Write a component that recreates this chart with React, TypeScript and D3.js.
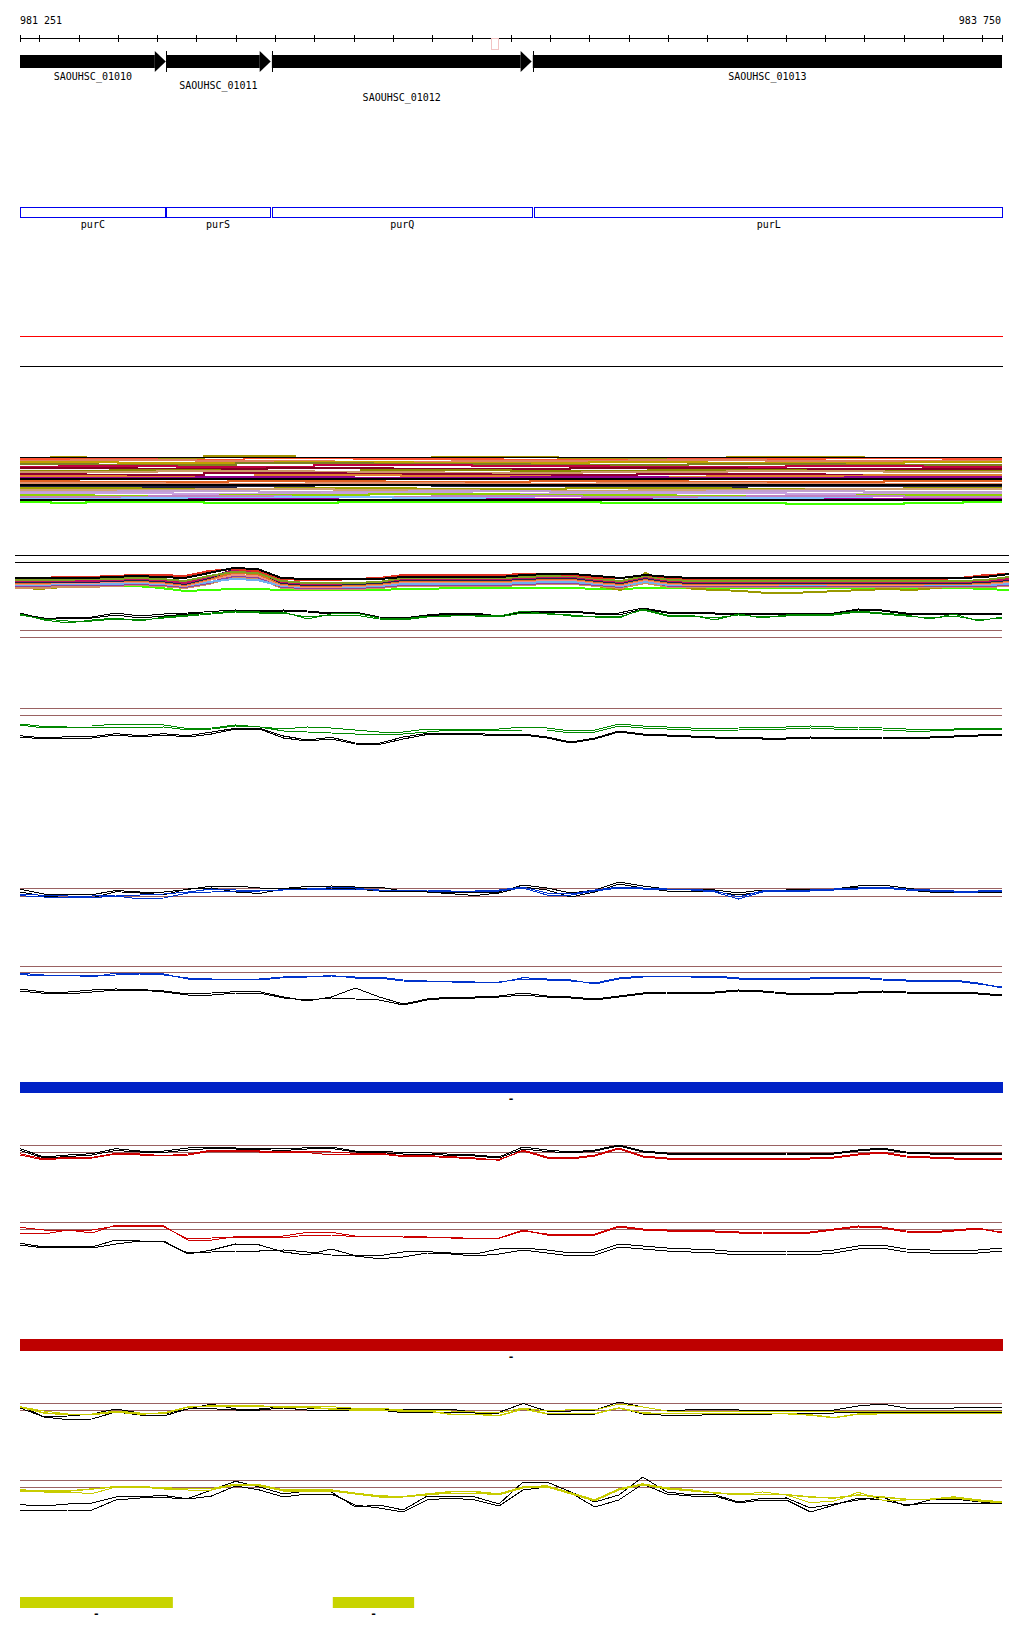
import React from 'react';
import * as d3 from 'd3';

// ---------- region & ruler ----------
const REGION_START = 981251;
const REGION_END = 983750;
const rulerLabels = ['981 251', '983 750'];
const rulerTicks = d3.range(981300, 983701, 100);

// ---------- genes ----------
const geneNames = ['SAOUHSC_01010', 'SAOUHSC_01011', 'SAOUHSC_01012', 'SAOUHSC_01013'];
const geneStarts = [980500, 981623, 981892, 982556];
const geneEnds = [981622, 981889, 982553, 984400];
const geneLabelRows = [0, 1, 2, 0];
const symbolNames = ['purC', 'purS', 'purQ', 'purL'];
const symbolStarts = [980500, 981622, 981892, 982560];
const symbolEnds = [981622, 981888, 982556, 984400];

// ---------- strand bars ----------
const blueBars = [[981251, 983750]];
const redBars = [[981251, 983750]];
const yellowBars = [[981251, 981640], [982047, 982254]];

// ---------- track A (stacked step profiles: [start bp, level] runs) ----------
const aColors = ['#a09000', '#ff5030', '#e08060', '#c0a000', '#808020', '#c00040', '#800020', '#8a8a00', '#cc9966', '#900030', '#e08030', '#900090', '#e06020', '#e09070', '#202040', '#a0a000', '#d0a070', '#c0a0d0', '#c8a0e0', '#90d000', '#c080c0', '#80c0ff', '#a000a0', '#40ff00'];
const aRuns = [
  [[981251, 48], [981330, 49], [981420, 48], [981720, 50], [981950, 48], [982300, 49], [982620, 48], [983050, 49], [983400, 48]],
  [[981251, 47], [981600, 46], [981820, 48], [982100, 47], [982480, 46], [982900, 47], [983300, 48], [983600, 47]],
  [[981251, 45], [981380, 46], [981700, 45], [982050, 44], [982350, 45], [982800, 46], [983150, 45]],
  [[981251, 44], [981500, 43], [981900, 44], [982250, 43], [982700, 44], [983000, 43], [983500, 44]],
  [[981251, 42], [981450, 41], [981800, 43], [982150, 42], [982550, 41], [982950, 42], [983350, 41]],
  [[981251, 39], [981350, 40], [981650, 39], [982000, 41], [982400, 40], [982750, 39], [983200, 40], [983550, 39]],
  [[981251, 38], [981550, 37], [981880, 38], [982200, 37], [982650, 38], [983100, 37]],
  [[981251, 35], [981480, 36], [981760, 34], [982120, 36], [982500, 35], [982850, 36], [983250, 35]],
  [[981251, 34], [981600, 35], [982000, 34], [982330, 33], [982680, 34], [983050, 35], [983450, 34]],
  [[981251, 32], [981420, 31], [981720, 33], [982080, 32], [982450, 31], [982820, 32], [983300, 31]],
  [[981251, 30], [981520, 29], [981850, 31], [982220, 30], [982600, 29], [983000, 30], [983400, 31]],
  [[981251, 28], [981700, 29], [982100, 28], [982500, 29], [982900, 28], [983350, 29]],
  [[981251, 25], [981400, 24], [981780, 25], [982180, 24], [982550, 25], [982950, 24], [983450, 25]],
  [[981251, 23], [981620, 22], [981980, 23], [982380, 22], [982720, 23], [983150, 22]],
  [[981251, 20], [981460, 19], [981800, 20], [982000, 21], [982300, 20], [982700, 19], [983100, 20]],
  [[981251, 18], [981560, 17], [981900, 18], [982260, 17], [982640, 18], [983060, 17], [983500, 18]],
  [[981251, 16], [981700, 17], [982050, 16], [982420, 15], [982800, 16], [983250, 17]],
  [[981251, 14], [981500, 15], [981860, 14], [982240, 15], [982600, 14], [983000, 15], [983400, 14]],
  [[981251, 13], [981640, 12], [982020, 13], [982400, 12], [982780, 13], [983200, 12]],
  [[981251, 11], [981440, 10], [981760, 11], [982140, 12], [982520, 11], [982920, 10], [983380, 11]],
  [[981251, 9], [981580, 10], [981940, 9], [982300, 10], [982680, 9], [983100, 10], [983500, 9]],
  [[981251, 7], [981510, 8], [981900, 9], [982200, 8], [982560, 7], [982980, 8], [983420, 7]],
  [[981251, 6], [981680, 7], [982060, 6], [982440, 7], [982860, 6], [983300, 7]],
  [[981251, 4], [981330, 3], [981420, 4], [981720, 3], [982060, 4], [982730, 3], [983200, 2], [983500, 3], [983650, 4]],
];
const aBlackLevels = [48, 27, 21, 6];

// ---------- track B (multi-condition curves, 42 points) ----------
const bColors = ['#40ff00', '#999900', '#d09060', '#9040a0', '#70b0f0', '#f09080', '#e07020', '#202050', '#c01060', '#80a020', '#e03020', '#000000'];
const bValues = [
  [10, 10, 10, 10, 10, 10, 8, 5, 6, 7, 7, 6, 6, 6, 6, 6, 7, 7, 8, 8, 8, 8, 8, 8, 7, 7, 8, 8, 8, 8, 8, 8, 8, 8, 8, 8, 8, 8, 8, 8, 7, 6],
  [9, 7, 9, 12, 15, 17, 17, 15, 17, 20, 18, 12, 10, 10, 10, 11, 15, 15, 15, 14, 14, 15, 15, 14, 10, 6, 23, 12, 7, 6, 5, 3, 3, 4, 5, 6, 7, 6, 8, 10, 13, 15],
  [8, 8, 9, 9, 10, 11, 10, 8, 12, 19, 18, 8, 7, 7, 7, 8, 10, 10, 10, 10, 10, 11, 12, 12, 10, 8, 13, 9, 9, 9, 9, 9, 9, 9, 9, 9, 9, 9, 9, 9, 9, 10],
  [10, 10, 11, 11, 11, 12, 11, 9, 13, 20, 19, 9, 8, 8, 8, 9, 11, 11, 11, 11, 11, 12, 13, 13, 11, 9, 15, 10, 10, 10, 10, 10, 10, 10, 10, 10, 10, 10, 10, 10, 10, 11],
  [11, 11, 12, 12, 12, 13, 12, 10, 14, 17, 16, 10, 9, 9, 9, 10, 12, 12, 12, 12, 12, 13, 14, 14, 12, 10, 14, 11, 11, 11, 12, 12, 11, 11, 11, 11, 11, 11, 11, 11, 11, 12],
  [12, 12, 13, 13, 14, 14, 13, 10, 16, 21, 20, 11, 9, 9, 10, 11, 14, 14, 14, 14, 14, 15, 16, 16, 13, 11, 16, 12, 11, 11, 11, 11, 12, 12, 11, 11, 11, 11, 12, 12, 12, 14],
  [13, 13, 14, 14, 15, 15, 14, 11, 17, 23, 22, 12, 10, 10, 11, 12, 15, 15, 15, 15, 15, 16, 17, 17, 14, 12, 17, 13, 12, 12, 12, 12, 12, 12, 12, 12, 12, 12, 12, 12, 13, 15],
  [14, 14, 14, 14, 15, 16, 15, 12, 18, 26, 25, 13, 11, 11, 12, 13, 16, 16, 16, 16, 16, 17, 18, 18, 15, 13, 18, 14, 13, 13, 13, 13, 13, 13, 13, 13, 13, 13, 13, 13, 14, 16],
  [15, 15, 15, 15, 16, 17, 16, 13, 19, 25, 24, 14, 12, 12, 13, 14, 17, 17, 17, 17, 17, 18, 19, 19, 16, 14, 19, 15, 14, 14, 14, 14, 14, 14, 14, 14, 14, 14, 14, 14, 15, 17],
  [16, 16, 16, 17, 17, 18, 17, 15, 20, 24, 23, 15, 13, 13, 13, 14, 18, 18, 18, 18, 18, 19, 20, 20, 17, 15, 20, 16, 15, 15, 15, 15, 15, 15, 15, 15, 15, 15, 15, 15, 16, 19],
  [18, 18, 19, 19, 20, 21, 21, 20, 25, 27, 25, 17, 16, 16, 17, 18, 21, 21, 21, 21, 21, 22, 22, 21, 18, 18, 21, 18, 17, 17, 17, 17, 17, 17, 17, 17, 17, 17, 17, 18, 21, 22],
  [18, 18, 18, 18, 19, 20, 19, 18, 23, 28, 27, 18, 17, 17, 17, 17, 19, 19, 19, 19, 19, 21, 22, 22, 20, 18, 21, 19, 18, 18, 18, 18, 18, 18, 18, 18, 18, 18, 18, 18, 19, 22],
];

// ---------- line tracks (42 points each) ----------
const cBlackA = [27, 21, 23, 23, 27, 24, 26, 27, 28.5, 30, 29, 30, 29, 27, 28, 23, 22, 25, 27, 27, 24, 29, 29, 29, 27, 27, 32, 28, 28, 27, 27, 27, 27, 27, 27, 31, 30, 27, 27, 27, 27, 27];
const cBlackB = [26, 22, 21, 22, 25, 22, 24, 26, 27, 29, 28, 29, 28, 26, 27, 22, 21, 24, 26, 26, 23, 28, 28, 28, 26, 25, 31, 27, 27, 26, 26, 26, 26, 26, 26, 30, 29, 26, 26, 26, 26, 25];
const cGreenA = [26, 20, 17, 20, 22, 19, 23, 25, 27, 29, 28, 28, 21, 26, 27, 22, 21, 24, 24, 25, 24, 29, 26, 25, 23, 22, 31, 25, 25, 20, 26, 22, 25, 26, 26, 29, 27, 25, 21, 26, 19, 23];
const cGreenB = [25, 21, 19, 19, 21, 20, 22, 24, 26, 28, 27, 27, 23, 25, 25, 21, 20, 23, 25, 24, 23, 27, 27, 24, 24, 23, 30, 24, 24, 22, 25, 23, 24, 25, 25, 28, 26, 24, 22, 24, 20, 22];

const dGreenA = [26, 23.5, 24, 24, 26, 26, 25, 21.5, 22, 25, 23, 21, 23, 22, 20, 18, 18, 21, 21, 20, 21, 23, 22, 19, 20, 26, 24, 23, 22, 21, 22, 23, 23, 24, 23, 23, 22, 21, 21, 21, 22, 22];
const dGreenB = [25, 22, 23, 23, 23, 22.3, 23, 20, 21, 24, 23, 19, 18, 17, 16, 16, 16, 18, 20, 19, 19.5, 20, 20, 17, 18, 24, 22, 21, 20, 19, 20, 21, 21, 22, 21, 21, 20, 19, 19, 20, 21, 21];
const dBlackA = [14.3, 12, 13.3, 13.3, 16.3, 14.3, 16.3, 14.3, 18, 21.7, 21.7, 14, 10, 12.7, 7, 6.7, 13, 16.7, 16.7, 16.7, 15, 16, 13, 8, 12, 19, 16, 15, 14, 13, 13, 12, 12, 13, 12, 13, 13, 12, 13, 14, 15, 16];
const dBlackB = [13, 11, 12, 12, 15, 13, 15, 13, 16, 21, 21, 12, 9, 11, 6, 5.5, 11, 15.5, 15.5, 15.5, 14, 15, 12, 7, 11, 18, 15, 14, 13, 12, 12, 11, 11, 12, 11, 12, 12, 11, 12, 13, 14, 15];

const eBlackA = [20.7, 16, 15.3, 15.3, 19.5, 18, 18, 20.5, 24, 24, 22, 21.5, 23.5, 24, 23, 23, 19, 19, 17.3, 17.3, 18, 25, 22, 17, 20, 28, 24, 21, 21, 20, 17, 20, 20, 21, 21, 24, 25, 22, 19, 19, 19, 19];
const eBlackB = [18, 14, 12.3, 12.3, 18.3, 17, 15.3, 21, 22, 18, 16.5, 21, 22, 22, 21, 19, 19, 18, 16.3, 14.5, 17, 23, 20, 13, 18, 26, 22, 19, 19, 18, 15, 18, 19, 19, 20, 23, 23, 20, 18, 17, 18, 18];
const eBlueA = [14.3, 13, 12.3, 12.3, 14, 11, 12, 17, 18, 19, 19, 20.3, 21, 22.3, 22, 19.3, 19.3, 19, 18.3, 18.3, 19, 22, 15, 15, 19, 22, 21, 21, 20, 18, 11, 18, 19, 19, 20, 21, 22, 20, 19, 18, 18, 19];
const eBlueB = [16, 14.7, 14, 14, 15, 15, 16, 18, 21, 20, 19, 20, 21, 21, 21, 20, 20, 20, 19, 19, 20, 23, 17, 16, 20, 23, 22, 21, 21, 19, 13, 19, 20, 20, 21, 22, 23, 21, 20, 19, 19, 20];

const fBlueA = [36.7, 35, 35, 33, 37, 37, 36, 31, 30.5, 30, 30, 32.3, 33, 34.5, 32, 32, 29, 28.5, 28, 27.3, 27.3, 32.3, 31, 30, 26, 31, 33, 34, 34, 34, 32, 31, 32, 32, 33, 33, 31, 30, 30, 30, 27, 22];
const fBlueB = [35.3, 34.3, 34.3, 34, 35, 36, 35, 32, 31, 31, 31, 33, 33.5, 34, 33, 33, 30, 29, 28.5, 28, 28, 31, 30, 29, 27, 32, 34, 34, 33, 33, 31, 30, 31, 31, 32, 32, 30, 29, 29, 29, 26, 23];
const fBlackA = [21, 18, 18, 20, 21, 20.5, 19, 16, 17, 18.3, 18.3, 13, 9, 13, 22, 13, 6, 11, 13, 13, 14, 17, 14, 13, 11, 14, 17, 18, 18, 18, 20, 19, 17, 17, 17, 18, 19, 18, 17, 18, 17, 15];
const fBlackB = [19, 16.7, 16, 18, 20, 20, 18, 15, 15, 17, 17, 12, 10, 12, 11, 10, 5, 10, 12, 12, 13, 15, 13, 12, 10, 13, 16, 17, 17, 17, 19, 18, 16, 16, 16, 17, 18, 17, 16, 17, 16, 14];

const gBlackA = [21.3, 13, 15, 16.3, 21.3, 19, 19, 22, 22.7, 22, 21.5, 21, 22.3, 23, 19, 19, 17.3, 17.3, 15.7, 15, 13, 23, 20, 18, 20, 25, 19, 17, 17, 17, 16, 17, 17, 16, 17, 20, 22, 18, 17, 17, 17, 16];
const gBlackB = [19.5, 12, 13.5, 15, 19.5, 18, 17.5, 20, 21.5, 21, 20.5, 19.5, 21, 21.5, 18, 17.5, 16, 16, 14.5, 14, 12, 21, 18.5, 17, 19, 24, 18, 16, 16, 16, 15, 16, 16, 15, 16, 19, 21, 17, 16, 16, 16, 15];
const gRedA = [16.3, 11, 12.7, 12.7, 16.7, 16, 14.3, 16, 20, 20, 19, 19, 18.7, 18, 16.7, 16.7, 14.3, 14.3, 13.3, 12, 9.7, 20, 13, 12, 15, 22, 14, 12, 12, 12, 11, 12, 12, 12, 13, 16, 18, 14, 13, 12, 12, 12];
const gRedB = [15, 10, 12, 12, 16, 15, 15, 15, 19, 19, 18, 18, 17.5, 15, 16, 16, 13.5, 13.5, 12.5, 11, 10.5, 19, 12, 11, 14, 21, 13, 11, 11, 11, 10, 11, 11, 11, 12, 15, 17, 13, 12, 11, 11, 11];

const hRedA = [37.7, 35, 35, 35, 39, 38.3, 38, 26, 27, 27.3, 27.3, 27.3, 30, 30, 28.3, 28.3, 28, 27.3, 27.3, 26.7, 26.7, 34, 31, 30, 31, 39, 36, 35, 35, 34, 33, 33, 32, 33, 36, 39, 38, 34, 33, 35, 37, 32];
const hRedB = [32, 31, 35, 32, 40, 40, 39, 25, 25, 28.3, 28.3, 29, 32.7, 32.7, 29, 29, 29, 28, 27, 27, 27, 35, 30, 29, 30, 38, 35, 34, 34, 33, 32, 32, 31, 32, 35, 38, 37, 33, 32, 34, 36, 33];
const hBlackA = [21.7, 18, 18.3, 18, 25, 24, 24, 11, 15, 21, 20, 13, 10, 16, 9.3, 9.3, 13, 13.3, 12, 11, 16, 17, 15, 12, 13, 21, 19, 17, 16, 15, 13, 14, 14, 13, 15, 19, 20, 16, 15, 15, 15, 17];
const hBlackB = [20, 17, 18, 17, 21, 24, 23, 12, 13, 14, 14, 15, 13, 10, 9, 6.3, 8, 12, 11, 9, 11, 15, 12, 9, 10, 18, 16, 14, 13, 12, 10, 11, 11, 10, 12, 16, 17, 13, 12, 12, 12, 14];

const iBlackA = [19, 8.3, 9, 11, 16, 12, 11, 16, 21, 16, 16, 18.3, 17, 17, 17, 16, 15.7, 15.7, 15.7, 12.7, 12.7, 21.5, 14, 14, 15, 23, 18, 14, 15.3, 15.3, 15, 15, 15, 15, 15, 19, 21, 17, 17, 17, 18, 18];
const iBlackB = [17, 8, 5.3, 6, 13, 10, 9, 16, 16.3, 15, 15, 17, 15, 15, 15, 15, 12.3, 12.3, 13, 12, 12, 17, 11, 11, 11, 17.3, 11, 9.7, 9.7, 10.3, 10.3, 10.3, 12, 12, 12, 13, 13, 13, 13, 13, 13, 13];
const iYellowA = [18, 12, 10.3, 10.3, 13, 11, 12, 18, 19, 19, 19, 17.7, 17.7, 16, 15, 15, 14, 14, 10.7, 10.7, 9.3, 16, 11.3, 11.3, 11.3, 17, 12, 11.3, 11.3, 11.3, 11.3, 11.3, 11.3, 10, 7.3, 11, 11.3, 11.3, 11.3, 11.3, 11.3, 11.3];
const iYellowB = [18.3, 14, 11, 11, 14, 12, 11, 17.7, 19.3, 19.3, 18.3, 18.3, 18.3, 18.3, 16.7, 16.7, 15, 15, 14, 13, 12, 17, 14, 15.3, 15, 21, 18, 14, 14, 14, 14, 14, 14, 14, 14, 14, 14, 14, 14, 14, 14, 14];

const jYellowA = [30, 29, 29, 31, 33.3, 33.3, 32, 31.3, 31.3, 35.7, 35, 30, 30, 30, 26.7, 24, 23.3, 26, 28.3, 28.3, 26, 33, 34, 27, 20, 31, 36, 32, 30, 27, 26, 25.3, 25.3, 23, 22, 25, 23, 20.7, 20.7, 23, 20, 18];
const jYellowB = [29, 28, 28, 26.3, 33, 33, 31, 30, 30, 35, 34, 29, 29, 29, 26, 23, 23, 25, 27, 27, 25, 32, 33, 26, 19, 30, 35, 31, 29, 27, 25, 28, 25, 17.3, 19, 27.7, 20, 20, 21, 22, 19, 17];
const jBlackA = [15.3, 14, 16, 17, 23, 23.3, 24.5, 21.3, 30, 38.7, 33, 26, 29, 28, 13, 15, 10, 24, 24, 23, 16, 38, 38, 28, 18, 25, 43, 28, 25.3, 25.3, 18, 21.7, 22, 12, 16, 20, 23, 14, 20, 21, 18.3, 16];
const jBlackB = [9.3, 9.3, 10, 10, 20, 22, 22.5, 21, 24, 34, 30, 23, 26, 26, 15, 12, 8, 20, 22, 20, 14, 30, 33, 27, 13, 20, 36, 26, 24, 24, 17, 20, 20, 8, 15, 22, 20, 15, 17, 17, 17, 16];

// ---------- colours ----------
const BROWN = '#9a6262';
const GREEN = '#008800';
const BLUE = '#0033cc';
const RED = '#cc0000';
const YELLOW = '#c8cc00';

const FONT = "'DejaVu Sans Mono', monospace";

const x = d3.scaleLinear().domain([REGION_START, REGION_END]).range([20, 1002]);
const xWide = d3.scaleLinear().domain([REGION_START, REGION_END]).range([15, 1009]);
const gridPos = d3.range(42).map((i) => REGION_START + (i * (REGION_END - REGION_START)) / 41);

const clipX = (v: number) => Math.max(20, Math.min(1002, x(v)));

type Series = { values: number[]; color: string; width?: number };

function LineTrack({ bottom, height, refs, series }: { bottom: number; height: number; refs: number[]; series: Series[] }) {
  const y = d3.scaleLinear().domain([0, height]).range([bottom, bottom - height]);
  const line = d3
    .line<number>()
    .x((_, i) => x(gridPos[i]))
    .y((d) => y(d));
  return (
    <g>
      {refs.map((r, i) => (
        <line key={'r' + i} x1={20} x2={1002} y1={y(r) + 0.5} y2={y(r) + 0.5} stroke={BROWN} strokeWidth={1} />
      ))}
      {series.map((s, i) => (
        <path key={i} d={line(s.values) || ''} fill="none" stroke={s.color} strokeWidth={s.width || 1} shapeRendering="crispEdges" />
      ))}
    </g>
  );
}

export default function App() {
  const rulerY = 38.5;
  const headLen = 11;
  const barTop = 55;
  const barBot = 68;
  const labelBaselines = [80, 89, 101];

  // track A
  const yA = d3.scaleLinear().domain([0, 50]).range([505, 455]);
  const stepLine = d3
    .line<number[]>()
    .x((d) => x(d[0]))
    .y((d) => Math.round(yA(d[1])) + 0.5)
    .curve(d3.curveStepAfter);

  // track B
  const yB = d3.scaleLinear().domain([0, 30]).range([596, 566]);
  const bLine = d3
    .line<number>()
    .x((_, i) => xWide(gridPos[i]))
    .y((d) => yB(d));

  const dash = (cx: number, baseline: number, key: string) => (
    <text key={key} x={cx} y={baseline} fontFamily={FONT} fontSize={11} fontWeight="bold" textAnchor="middle" fill="#000">-</text>
  );

  return (
    <svg width={1024} height={1640} style={{ position: 'absolute', left: 0, top: 0, background: '#fff' }} xmlns="http://www.w3.org/2000/svg">
      <rect x={0} y={0} width={1024} height={1640} fill="#fff" />

      {/* ruler */}
      <text x={20} y={24} fontFamily={FONT} fontSize={10} fill="#000">{rulerLabels[0]}</text>
      <text x={1001} y={24} fontFamily={FONT} fontSize={10} fill="#000" textAnchor="end">{rulerLabels[1]}</text>
      <line x1={x(REGION_START)} x2={x(REGION_END)} y1={rulerY} y2={rulerY} stroke="#000" strokeWidth={1} />
      {[REGION_START, ...rulerTicks, REGION_END].map((t, i) => (
        <line key={i} x1={Math.round(x(t)) + 0.5} x2={Math.round(x(t)) + 0.5} y1={35} y2={42} stroke="#000" strokeWidth={1} />
      ))}
      <rect x={491.5} y={38.5} width={7} height={11} fill="none" stroke="#f2c4c4" strokeWidth={1} />

      {/* gene arrows */}
      {geneNames.map((name, i) => {
        const s = clipX(geneStarts[i]);
        const eRaw = x(geneEnds[i]);
        const e = clipX(geneEnds[i]);
        const hasHead = eRaw <= 1002;
        const bodyEnd = hasHead ? e - headLen : e;
        const cx = (s + e) / 2;
        return (
          <g key={name}>
            <rect x={s} y={barTop} width={bodyEnd - s} height={barBot - barTop} fill="#000" />
            {hasHead && <path d={`M${bodyEnd},51 L${e},61.5 L${bodyEnd},72 Z`} fill="#000" />}
            {geneStarts[i] > REGION_START && (
              <line x1={Math.round(s) + 0.5} x2={Math.round(s) + 0.5} y1={51} y2={72} stroke="#000" strokeWidth={1} />
            )}
            <text x={cx} y={labelBaselines[geneLabelRows[i]]} fontFamily={FONT} fontSize={10} textAnchor="middle" fill="#000">
              {name}
            </text>
          </g>
        );
      })}

      {/* gene symbol boxes */}
      {symbolNames.map((name, i) => {
        const s = clipX(symbolStarts[i]);
        const e = Math.min(1003, x(symbolEnds[i]));
        return (
          <g key={name}>
            <rect x={Math.round(s) + 0.5} y={207.5} width={Math.round(e - s) - 1} height={10} fill="none" stroke="#0000ee" strokeWidth={1} />
            <text x={(s + e) / 2} y={227.5} fontFamily={FONT} fontSize={10} textAnchor="middle" fill="#000">
              {name}
            </text>
          </g>
        );
      })}

      {/* empty tracks */}
      <line x1={20} x2={1003} y1={336.5} y2={336.5} stroke="#ff0000" strokeWidth={1} />
      <line x1={20} x2={1003} y1={366.5} y2={366.5} stroke="#000" strokeWidth={1} />

      {/* track A */}
      {aRuns.map((runs, i) => (
        <path key={'a' + i} d={stepLine([...runs, [REGION_END, runs[runs.length - 1][1]]]) || ''} fill="none" stroke={aColors[i]} strokeWidth={2} shapeRendering="crispEdges" />
      ))}
      {aBlackLevels.map((lv, i) => (
        <line key={'ab' + i} x1={20} x2={1002} y1={Math.round(yA(lv)) + 0.5} y2={Math.round(yA(lv)) + 0.5} stroke="#000" strokeWidth={i === 0 ? 1 : 2} shapeRendering="crispEdges" />
      ))}

      {/* frame lines above track B */}
      <line x1={15} x2={1009} y1={555.5} y2={555.5} stroke="#000" strokeWidth={1} />
      <line x1={15} x2={1009} y1={562.5} y2={562.5} stroke="#000" strokeWidth={1} />

      {/* track B */}
      {bValues.map((vals, i) => (
        <path key={'b' + i} d={bLine(vals) || ''} fill="none" stroke={bColors[i]} strokeWidth={2} shapeRendering="crispEdges" />
      ))}

      {/* line tracks */}
      <LineTrack bottom={640} height={40} refs={[10, 3]} series={[
        { values: cBlackA, color: '#000' }, { values: cBlackB, color: '#000' },
        { values: cGreenA, color: GREEN }, { values: cGreenB, color: GREEN },
      ]} />
      <LineTrack bottom={750} height={50} refs={[42, 35]} series={[
        { values: dBlackA, color: '#000' }, { values: dBlackB, color: '#000' },
        { values: dGreenA, color: GREEN }, { values: dGreenB, color: GREEN },
      ]} />
      <LineTrack bottom={910} height={40} refs={[22, 14]} series={[
        { values: eBlackA, color: '#000' }, { values: eBlackB, color: '#000' },
        { values: eBlueA, color: BLUE }, { values: eBlueB, color: BLUE },
      ]} />
      <LineTrack bottom={1010} height={50} refs={[44, 38]} series={[
        { values: fBlackA, color: '#000' }, { values: fBlackB, color: '#000' },
        { values: fBlueA, color: BLUE }, { values: fBlueB, color: BLUE },
      ]} />

      {/* blue strand bar */}
      {blueBars.map(([s, e], i) => (
        <g key={'bb' + i}>
          <rect x={x(s)} y={1082} width={x(e) - x(s) + 1} height={11} fill="#0022c6" />
          {dash((x(s) + x(e)) / 2, 1101.5, 'bd' + i)}
        </g>
      ))}

      <LineTrack bottom={1170} height={30} refs={[25, 18]} series={[
        { values: gBlackA, color: '#000' }, { values: gBlackB, color: '#000' },
        { values: gRedA, color: RED }, { values: gRedB, color: RED },
      ]} />
      <LineTrack bottom={1265} height={50} refs={[43, 36]} series={[
        { values: hBlackA, color: '#000' }, { values: hBlackB, color: '#000' },
        { values: hRedA, color: RED }, { values: hRedB, color: RED },
      ]} />

      {/* red strand bar */}
      {redBars.map(([s, e], i) => (
        <g key={'rb' + i}>
          <rect x={x(s)} y={1339} width={x(e) - x(s) + 1} height={12} fill="#be0000" />
          {dash((x(s) + x(e)) / 2, 1359.5, 'rd' + i)}
        </g>
      ))}

      <LineTrack bottom={1425} height={30} refs={[22, 15]} series={[
        { values: iBlackA, color: '#000' }, { values: iBlackB, color: '#000' },
        { values: iYellowA, color: YELLOW, width: 1.5 }, { values: iYellowB, color: YELLOW },
      ]} />
      <LineTrack bottom={1520} height={50} refs={[40, 33]} series={[
        { values: jBlackA, color: '#000' }, { values: jBlackB, color: '#000' },
        { values: jYellowA, color: YELLOW, width: 1.5 }, { values: jYellowB, color: YELLOW },
      ]} />

      {/* yellow strand bars */}
      {yellowBars.map(([s, e], i) => (
        <g key={'yb' + i}>
          <rect x={x(s)} y={1597} width={x(e) - x(s)} height={11} fill="#c8d400" />
          {dash((x(s) + x(e)) / 2, 1616.5, 'yd' + i)}
        </g>
      ))}
    </svg>
  );
}
